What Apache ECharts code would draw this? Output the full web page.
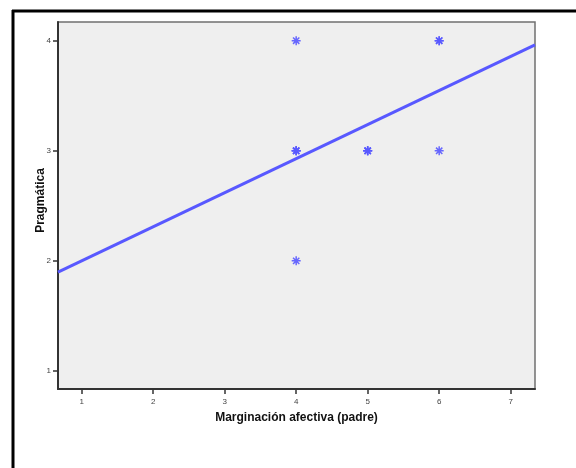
<!DOCTYPE html>
<html>
<head>
<meta charset="utf-8">
<script src="https://cdn.jsdelivr.net/npm/echarts@6/dist/echarts.min.js"></script>
<style>
  html, body { margin: 0; padding: 0; background: #fff; }
  #chart { width: 576px; height: 468px; }
</style>
</head>
<body>
<div id="chart"></div>
<script>
// Observations: Marginación afectiva (padre) vs Pragmática
const xValues = [4, 4, 4, 4, 4, 5, 5, 5, 6, 6, 6];
const yValues = [4, 3, 3, 3, 2, 3, 3, 3, 4, 4, 3];
const xTicks = [1, 2, 3, 4, 5, 6, 7];
const yTicks = [1, 2, 3, 4];
const xRange = [0.669, 7.34];
const yRange = [0.836, 4.17];

// Least-squares fit line
const n = xValues.length;
const mx = xValues.reduce((s, v) => s + v, 0) / n;
const my = yValues.reduce((s, v) => s + v, 0) / n;
let sxy = 0, sxx = 0;
for (let i = 0; i < n; i++) {
  sxy += (xValues[i] - mx) * (yValues[i] - my);
  sxx += (xValues[i] - mx) * (xValues[i] - mx);
}
const slope = sxy / sxx;
const intercept = my - slope * mx;
const fitLine = xRange.map(x => [x, intercept + slope * x]);

const points = xValues.map((x, i) => [x, yValues[i]]);

const FONT = 'Liberation Sans, Arial, sans-serif';
const BLUE = '#5858ff';
// eight-spoke asterisk
const asterisk = 'path://M5,0 L5,10 M0,5 L10,5 M1.5,1.5 L8.5,8.5 M1.5,8.5 L8.5,1.5';

const chart = echarts.init(document.getElementById('chart'), null, { renderer: 'canvas' });
chart.setOption({
  animation: false,
  backgroundColor: '#ffffff',
  grid: {
    left: 58, top: 22, width: 477, height: 367,
    show: true, backgroundColor: '#efefef',
    borderColor: '#707070', borderWidth: 1.5
  },
  xAxis: {
    type: 'value', min: xRange[0], max: xRange[1],
    name: 'Marginación afectiva (padre)',
    nameLocation: 'middle', nameGap: 23, nameMoveOverlap: false,
    nameTextStyle: { fontFamily: FONT, fontSize: 12, fontWeight: 'bold', color: '#111' },
    axisLine: { show: true, onZero: false, lineStyle: { color: '#333', width: 2 } },
    axisTick: { show: true, length: 5, customValues: xTicks, lineStyle: { color: '#333', width: 1.5 } },
    axisLabel: { customValues: xTicks, margin: 9, fontFamily: FONT, fontSize: 8, color: '#444' },
    splitLine: { show: false }
  },
  yAxis: {
    type: 'value', min: yRange[0], max: yRange[1],
    name: 'Pragmática',
    nameLocation: 'middle', nameRotate: 90, nameGap: 11, nameMoveOverlap: false,
    nameTextStyle: { fontFamily: FONT, fontSize: 12, fontWeight: 'bold', color: '#111', padding: [0, 0, 0, 10] },
    axisLine: { show: true, onZero: false, lineStyle: { color: '#333', width: 2 } },
    axisTick: { show: true, length: 5, customValues: yTicks, lineStyle: { color: '#333', width: 1.5 } },
    axisLabel: { customValues: yTicks, margin: 7, fontFamily: FONT, fontSize: 8, color: '#444' },
    splitLine: { show: false }
  },
  graphic: [
    { type: 'line', shape: { x1: 12, y1: 11, x2: 576, y2: 11 }, style: { stroke: '#000', lineWidth: 3 } },
    { type: 'line', shape: { x1: 13, y1: 10, x2: 13, y2: 468 }, style: { stroke: '#000', lineWidth: 3 } }
  ],
  series: [
    {
      type: 'line', data: fitLine, showSymbol: false, clip: true,
      lineStyle: { color: BLUE, width: 3 }, z: 2
    },
    {
      type: 'scatter', data: points, symbol: asterisk, symbolSize: 9,
      itemStyle: { color: 'none', borderColor: BLUE, borderWidth: 1.5, opacity: 0.9 }, z: 3
    }
  ]
});
</script>
</body>
</html>
